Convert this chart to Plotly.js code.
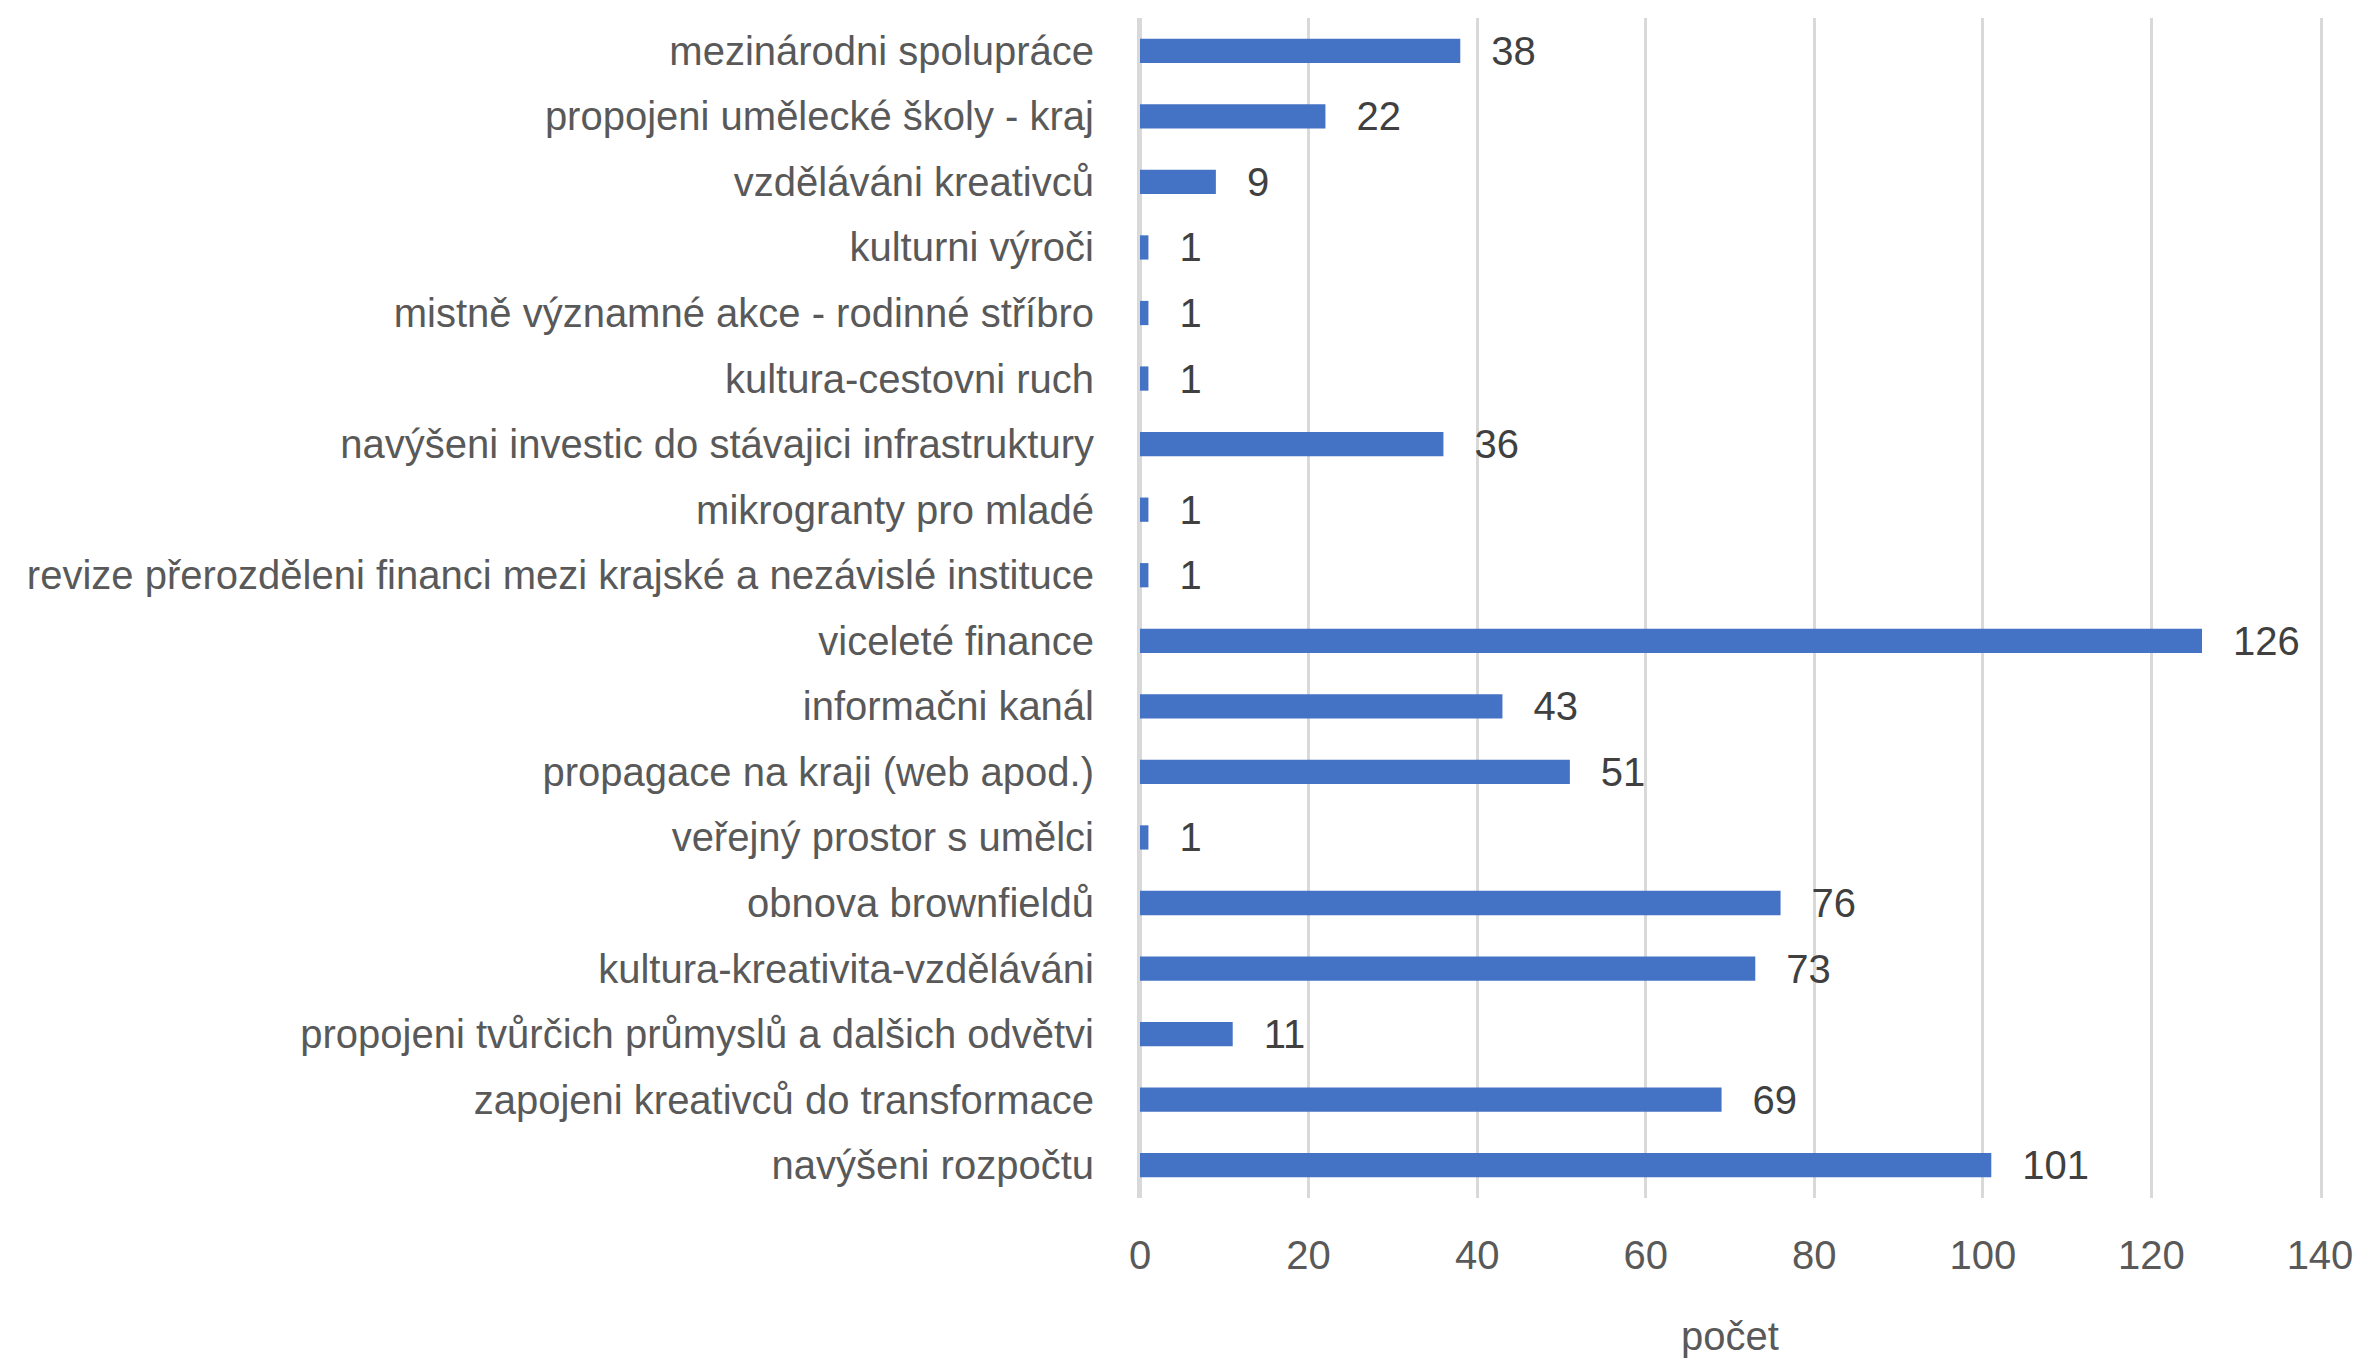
<!DOCTYPE html>
<html>
<head>
<meta charset="utf-8">
<script src="https://cdn.plot.ly/plotly-3.0.1.min.js"></script>
<style>html,body{margin:0;padding:0;background:#fff;}#chart{width:2362px;height:1362px;}</style>
</head>
<body>
<div id="chart"></div>
<script>
const categories = [
  "mezinárodni spolupráce",
  "propojeni umělecké školy - kraj",
  "vzděláváni kreativců",
  "kulturni výroči",
  "mistně významné akce - rodinné stříbro",
  "kultura-cestovni ruch",
  "navýšeni investic do stávajici infrastruktury",
  "mikrogranty pro mladé",
  "revize přerozděleni financi mezi krajské a nezávislé instituce",
  "viceleté finance",
  "informačni kanál",
  "propagace na kraji (web apod.)",
  "veřejný prostor s umělci",
  "obnova brownfieldů",
  "kultura-kreativita-vzděláváni",
  "propojeni tvůrčich průmyslů a dalšich odvětvi",
  "zapojeni kreativců do transformace",
  "navýšeni rozpočtu"
];
const values = [38, 22, 9, 1, 1, 1, 36, 1, 1, 126, 43, 51, 1, 76, 73, 11, 69, 101];
const xTicks = [0, 20, 40, 60, 80, 100, 120, 140];
const xTitle = "počet";

const FONT = '"Liberation Sans", Arial, sans-serif';

const trace = {
  type: 'bar',
  orientation: 'h',
  y: categories,
  x: values,
  marker: {color: '#4472C4'},
  text: values.map(v => '\u2002\u2009' + v),
  textposition: 'outside',
  constraintext: 'none',
  cliponaxis: false,
  textfont: {family: FONT, size: 40, color: '#404040'},
  hoverinfo: 'x+y'
};

const layout = {
  width: 2362,
  height: 1362,
  margin: {l: 1140, r: 42, t: 18, b: 164},
  paper_bgcolor: '#ffffff',
  plot_bgcolor: '#ffffff',
  bargap: 0.63,
  showlegend: false,
  font: {family: FONT, color: '#595959'},
  xaxis: {
    range: [0, 140],
    tickvals: xTicks,
    ticktext: xTicks.map(String),
    showgrid: true,
    gridcolor: '#d9d9d9',
    gridwidth: 3,
    zeroline: true,
    zerolinecolor: '#d9d9d9',
    zerolinewidth: 3,
    showline: false,
    ticks: '',
    ticklen: 0,
    ticklabelstandoff: 30,
    tickfont: {family: FONT, size: 40, color: '#595959'},
    title: {text: xTitle, font: {family: FONT, size: 40, color: '#595959'}, standoff: 45},
    automargin: false
  },
  yaxis: {
    autorange: 'reversed',
    type: 'category',
    showgrid: false,
    zeroline: false,
    showline: true,
    mirror: true,
    linecolor: '#d9d9d9',
    linewidth: 3,
    ticks: '',
    ticklabelstandoff: 35,
    tickfont: {family: FONT, size: 40, color: '#595959'},
    automargin: false
  }
};

Plotly.newPlot('chart', [trace], layout, {staticPlot: true, displayModeBar: false});
</script>
</body>
</html>
